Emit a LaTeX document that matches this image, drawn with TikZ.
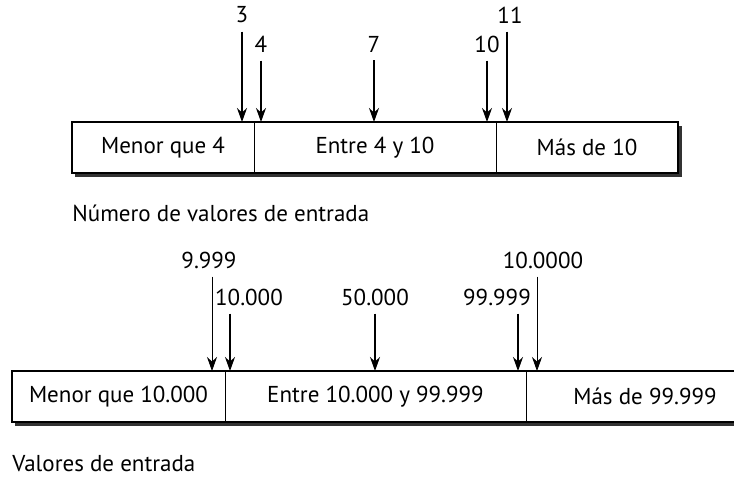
\documentclass[tikz,border=0pt]{standalone}
\usepackage{fontspec}
\setmainfont{PT Sans}
\usetikzlibrary{positioning,calc,arrows.meta}

\tikzset{
  seg/.style={draw, line width=0.5pt, inner sep=0pt, outer sep=0pt, minimum height=25.5pt},
  frame/.style={line width=0.85pt},
  shade/.style={line width=1.8pt, black!80},
  val/.style={inner sep=4pt},
  caption/.style={anchor=west, inner sep=0pt},
  arr/.style={-{Stealth[length=7pt,width=5pt]}, line width=0.65pt},
}

\begin{document}
\begin{tikzpicture}[x=0.5pt, y=-0.5pt, font=\fontsize{11.5}{13.5}\selectfont]
  \useasboundingbox (0,0) rectangle (734,479);
  \clip (0,0) rectangle (734,479);

  % numero de valores de entrada
  \node[seg, minimum width=91pt] (menor) at (163,147.5) {Menor que 4};
  \node[seg, minimum width=121pt, right=0pt of menor] (entre) {Entre 4 y 10};
  \node[seg, minimum width=91pt, right=0pt of entre] (mas) {Más de 10};
  \draw[shade] ($(menor.south west)+(3,2)$) -- ($(mas.south east)+(2,2)$) -- ($(mas.north east)+(2,4)$);
  \draw[frame] (menor.north west) rectangle (mas.south east);

  \node[val] (v3) at (242,15) {3};
  \node[val] (v4) at (261,44) {4};
  \node[val] (v7) at (374,44) {7};
  \node[val] (v10) at (487,44) {10};
  \node[val] (v11) at (510,15) {11};
  \coordinate (t11) at ($(v11.south)+(-3,0)$);

  \draw[arr] (v3.south) -- (v3.south |- menor.north);
  \draw[arr] (v4.south) -- (v4.south |- menor.north);
  \draw[arr] (v7.south) -- (v7.south |- entre.north);
  \draw[arr] (v10.south) -- (v10.south |- entre.north);
  \draw[arr] (t11) -- (t11 |- mas.north);

  \node[caption] (cap1) at ($(menor.south west)+(0,40)$) {Número de valores de entrada};

  % valores de entrada
  \node[seg, minimum width=106.5pt] (menorB) at (118.5,396.5) {Menor que 10.000};
  \node[seg, minimum width=150.5pt, right=0pt of menorB] (entreB) {Entre 10.000 y 99.999};
  \node[seg, minimum width=119pt, right=0pt of entreB] (masB) {Más de 99.999};
  \draw[shade] ($(menorB.south west)+(3,2)$) -- ($(masB.south east)+(2,2)$);
  \draw[frame] (menorB.north west) rectangle (masB.south east);

  \node[val] (w9999) at (209,260) {9.999};
  \node[val] (w10000) at (249,297) {10.000};
  \node[val] (w50000) at (375,297) {50.000};
  \node[val] (w99999) at (497,297) {99.999};
  \node[val] (w100000) at (543,260) {10.0000};
  \coordinate (s9999) at ($(w9999.south)+(3,0)$);
  \coordinate (s10000) at ($(w10000.south)+(-19,0)$);
  \coordinate (s99999) at ($(w99999.south)+(21,0)$);
  \coordinate (s100000) at ($(w100000.south)+(-6,0)$);

  \draw[arr, line width=0.4pt] (s9999) -- (s9999 |- menorB.north);
  \draw[arr] (s10000) -- (s10000 |- entreB.north);
  \draw[arr] (w50000.south) -- (w50000.south |- entreB.north);
  \draw[arr] (s99999) -- (s99999 |- entreB.north);
  \draw[arr, line width=0.4pt] (s100000) -- (s100000 |- masB.north);

  \node[caption] (cap2) at ($(menorB.south west)+(0,42)$) {Valores de entrada};
\end{tikzpicture}
\end{document}
